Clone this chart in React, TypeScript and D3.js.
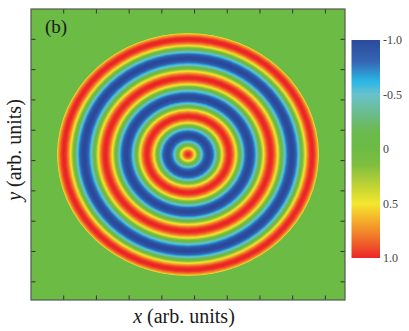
import { useEffect, useRef } from "react";
import * as d3 from "d3";

// ring crests (radius in arb. units, field value)
const crestRadius = [0, 0.63, 1.26, 1.89, 2.53, 3.18, 3.8];
const crestValue = [1, -1, 1, -1, 1, -1, 1];
const discRadius = 4.0;
const discCenter = [4.8, 4.8];

const axisTicks = [1, 2, 3, 4, 5, 6, 7, 8, 9];
const barTicks = [-1, -0.5, 0, 0.5, 1];
const barTickLabels = ["-1.0", "-0.5", "0", "0.5", "1.0"];

// colour map (value -> colour)
const cmapValues = [-1, -0.8, -0.62, -0.5, -0.3, -0.15, 0, 0.15, 0.3, 0.5, 0.65, 0.8, 1];
const cmapColors = [
  "#2c4a9b", "#3566b3", "#2ab6e6", "#69c2cc", "#6bbb84", "#6bba4c", "#6bbb45",
  "#80bf3f", "#b4ce37", "#f3e72c", "#f6b02a", "#f07a2a", "#ec2528",
];

const W = 409;
const H = 331;

function field(r: number) {
  const n = crestRadius.length;
  for (let i = 0; i < n - 1; i++) {
    if (r <= crestRadius[i + 1]) {
      const t = (r - crestRadius[i]) / (crestRadius[i + 1] - crestRadius[i]);
      return crestValue[i] * Math.cos(Math.PI * t);
    }
  }
  const step = crestRadius[n - 1] - crestRadius[n - 2];
  const t = (r - crestRadius[n - 1]) / step;
  return crestValue[n - 1] * Math.cos(Math.PI * t);
}

export default function App() {
  const ref = useRef<SVGSVGElement>(null);

  useEffect(() => {
    const svg = d3.select(ref.current);
    svg.selectAll("*").remove();

    const x = d3.scaleLinear().domain([0, 9.6]).range([31, 345]);
    const y = d3.scaleLinear().domain([0, 9.6]).range([9, 300]);
    const color = d3.scaleLinear<string>().domain(cmapValues).range(cmapColors).clamp(true);

    // background
    svg
      .append("rect")
      .attr("x", x(0))
      .attr("y", y(0))
      .attr("width", x(9.6) - x(0))
      .attr("height", y(9.6) - y(0))
      .attr("fill", color(0));

    // disc drawn as nested ellipses, outer first
    const radii = d3.range(discRadius, 0, -0.008);
    svg
      .append("g")
      .selectAll("ellipse")
      .data(radii)
      .enter()
      .append("ellipse")
      .attr("cx", x(discCenter[0]))
      .attr("cy", y(discCenter[1]))
      .attr("rx", (r) => x(r) - x(0))
      .attr("ry", (r) => y(r) - y(0))
      .attr("fill", (r) => color(field(r)));

    // ticks, inward on all four sides
    const tk = 4.5;
    const g = svg.append("g").attr("stroke", "#333").attr("stroke-width", 1);
    axisTicks.forEach((t) => {
      g.append("line").attr("x1", x(t)).attr("x2", x(t)).attr("y1", y(9.6)).attr("y2", y(9.6) - tk);
      g.append("line").attr("x1", x(t)).attr("x2", x(t)).attr("y1", y(0)).attr("y2", y(0) + tk);
      g.append("line").attr("y1", y(t)).attr("y2", y(t)).attr("x1", x(0)).attr("x2", x(0) + tk);
      g.append("line").attr("y1", y(t)).attr("y2", y(t)).attr("x1", x(9.6)).attr("x2", x(9.6) - tk);
    });

    // frame
    svg
      .append("rect")
      .attr("x", x(0))
      .attr("y", y(0))
      .attr("width", x(9.6) - x(0))
      .attr("height", y(9.6) - y(0))
      .attr("fill", "none")
      .attr("stroke", "#555")
      .attr("stroke-width", 1.2);

    // panel label
    svg
      .append("text")
      .attr("x", 45)
      .attr("y", 33)
      .attr("font-family", "Liberation Serif, serif")
      .attr("font-size", 19)
      .attr("fill", "#1a1a1a")
      .text("(b)");

    // axis titles
    const xt = svg
      .append("text")
      .attr("x", 184)
      .attr("y", 323)
      .attr("text-anchor", "middle")
      .attr("font-family", "Liberation Serif, serif")
      .attr("font-size", 20)
      .attr("fill", "#1a1a1a");
    xt.append("tspan").attr("font-style", "italic").text("x");
    xt.append("tspan").text(" (arb. units)");

    const yt = svg
      .append("text")
      .attr("transform", "translate(21,150) rotate(-90)")
      .attr("text-anchor", "middle")
      .attr("font-family", "Liberation Serif, serif")
      .attr("font-size", 20)
      .attr("fill", "#1a1a1a");
    yt.append("tspan").attr("font-style", "italic").text("y");
    yt.append("tspan").text(" (arb. units)");

    // colour bar
    const cb = d3.scaleLinear().domain([-1, 1]).range([40, 258]);
    const defs = svg.append("defs");
    const grad = defs
      .append("linearGradient")
      .attr("id", "cbar")
      .attr("x1", 0)
      .attr("x2", 0)
      .attr("y1", 0)
      .attr("y2", 1);
    cmapValues.forEach((v, i) => {
      grad
        .append("stop")
        .attr("offset", (v + 1) / 2)
        .attr("stop-color", cmapColors[i]);
    });
    svg
      .append("rect")
      .attr("x", 351.5)
      .attr("y", cb(-1))
      .attr("width", 28.5)
      .attr("height", cb(1) - cb(-1))
      .attr("fill", "url(#cbar)");

    svg
      .append("g")
      .selectAll("text")
      .data(barTicks)
      .enter()
      .append("text")
      .attr("x", 383)
      .attr("y", (d) => cb(d) + 4)
      .attr("font-family", "Liberation Serif, serif")
      .attr("font-size", 12)
      .attr("fill", "#444")
      .text((d, i) => barTickLabels[i]);
  }, []);

  return (
    <svg
      ref={ref}
      width={W}
      height={H}
      style={{ position: "absolute", left: 0, top: 0, background: "#fff" }}
    ></svg>
  );
}
